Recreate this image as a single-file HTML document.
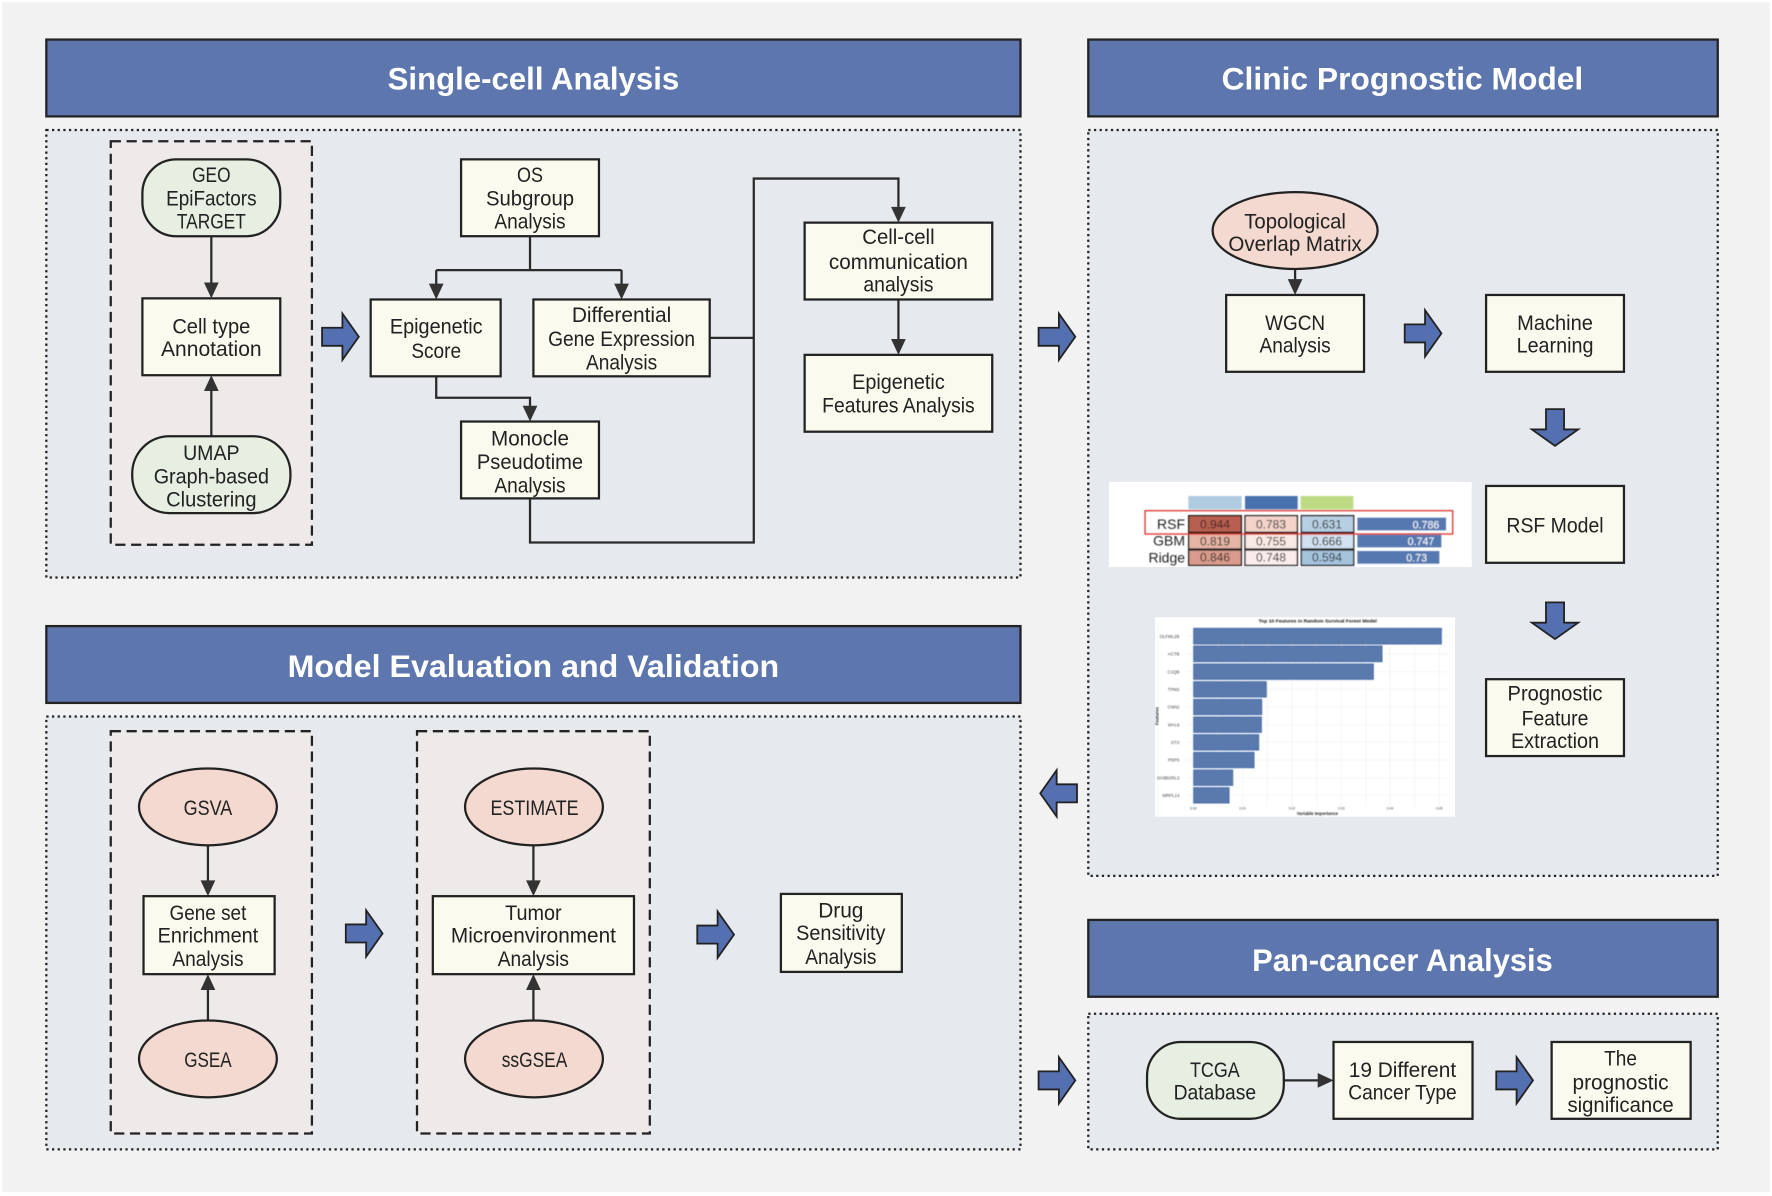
<!DOCTYPE html>
<html><head><meta charset="utf-8"><style>
html,body{margin:0;padding:0;background:#fff}
svg{display:block}
text{font-family:"Liberation Sans",sans-serif;fill:#222;font-size:18.5px;text-anchor:middle}
.h{font-size:28px;font-weight:bold;fill:#fff}
.n{fill:#fbfaee;stroke:#222;stroke-width:2}
.g{fill:#e7efe2;stroke:#222;stroke-width:2}
.e{fill:#f3d9d0;stroke:#222;stroke-width:2}
.hd{fill:#5d76ae;stroke:#222;stroke-width:2}
.p{fill:#e6eaee;stroke:#222;stroke-width:2;stroke-dasharray:2 3}
.d{fill:#efeaea;stroke:#222;stroke-width:2;stroke-dasharray:9 5}
.l{fill:none;stroke:#2a2a2a;stroke-width:2}
.a{fill:#333;stroke:none}
.b{fill:#5470b0;stroke:#222;stroke-width:1.6}
</style></head><body>
<svg xmlns="http://www.w3.org/2000/svg" width="1772" height="1196" viewBox="0 0 1568 1058.3">
<defs>
<path id="ar" class="b" d="M0,-8H18V-20.5L32.5,0L18,20.5V8H0Z"/>
<path id="ah" class="a" d="M-6.5,-14H6.5L0,0Z"/>
<filter id="bl" x="-5%" y="-5%" width="110%" height="110%"><feGaussianBlur stdDeviation="1.2"/></filter>
</defs>
<rect x="0" y="0" width="1568" height="1058.3" fill="#fff"/>
<rect x="2" y="2" width="1564" height="1053" fill="#f2f2f2"/>

<!-- headers -->
<rect class="hd" x="41" y="35" width="862" height="68"/>
<rect class="hd" x="963" y="35" width="557" height="68"/>
<rect class="hd" x="41" y="554" width="862" height="68"/>
<rect class="hd" x="963" y="814" width="557" height="68"/>
<text class="h" x="472" y="79" textLength="258" lengthAdjust="spacingAndGlyphs">Single-cell Analysis</text>
<text class="h" x="1241" y="79" textLength="320" lengthAdjust="spacingAndGlyphs">Clinic Prognostic Model</text>
<text class="h" x="472" y="599" textLength="435" lengthAdjust="spacingAndGlyphs">Model Evaluation and Validation</text>
<text class="h" x="1241" y="859" textLength="266" lengthAdjust="spacingAndGlyphs">Pan-cancer Analysis</text>

<!-- panels -->
<rect class="p" x="41" y="115" width="862" height="396"/>
<rect class="p" x="963" y="115" width="557" height="660"/>
<rect class="p" x="41" y="634" width="862" height="383"/>
<rect class="p" x="963" y="897" width="557" height="120"/>
<rect class="d" x="98" y="125" width="178" height="357"/>
<rect class="d" x="98" y="647" width="178" height="356"/>
<rect class="d" x="369" y="647" width="206" height="356"/>

<!-- connectors -->
<path class="l" d="M187,209V252M187,386V345M469,209V239M386,239H550M386,239V252M550,239V252M386,333V352H469V360M469,441V480H667V158H795V184M628,299H667M795,265V301M1146,238V248M184,748V780M184,903V875M472,748V780M472,903V875M1136,956H1168"/>
<use href="#ah" x="187" y="264"/>
<use href="#ah" transform="translate(187,332) rotate(180)"/>
<use href="#ah" x="386" y="265"/>
<use href="#ah" x="550" y="265"/>
<use href="#ah" x="469" y="373"/>
<use href="#ah" x="795" y="197"/>
<use href="#ah" x="795" y="314"/>
<use href="#ah" x="1146" y="261"/>
<use href="#ah" x="184" y="793"/>
<use href="#ah" transform="translate(184,862) rotate(180)"/>
<use href="#ah" x="472" y="793"/>
<use href="#ah" transform="translate(472,862) rotate(180)"/>
<use href="#ah" transform="translate(1180,956) rotate(-90)"/>

<!-- block arrows -->
<use href="#ar" x="285" y="298"/>
<use href="#ar" x="919" y="298"/>
<use href="#ar" x="1243" y="295"/>
<use href="#ar" x="306" y="826"/>
<use href="#ar" x="617" y="827"/>
<use href="#ar" x="919" y="956"/>
<use href="#ar" x="1324" y="956"/>
<use href="#ar" transform="translate(953,702) rotate(180)"/>
<use href="#ar" transform="translate(1376,362) rotate(90)"/>
<use href="#ar" transform="translate(1376,533) rotate(90)"/>

<!-- nodes -->
<rect class="g" x="126" y="141" width="122" height="68" rx="30"/>
<text x="187" y="161" textLength="34" lengthAdjust="spacingAndGlyphs">GEO</text><text x="187" y="182" textLength="80" lengthAdjust="spacingAndGlyphs">EpiFactors</text><text x="187" y="202" textLength="61" lengthAdjust="spacingAndGlyphs">TARGET</text>
<rect class="n" x="126" y="264" width="122" height="68"/>
<text x="187" y="295" textLength="69" lengthAdjust="spacingAndGlyphs">Cell type</text><text x="187" y="315" textLength="89" lengthAdjust="spacingAndGlyphs">Annotation</text>
<rect class="g" x="117" y="386" width="140" height="68" rx="33"/>
<text x="187" y="407" textLength="50" lengthAdjust="spacingAndGlyphs">UMAP</text><text x="187" y="428" textLength="102" lengthAdjust="spacingAndGlyphs">Graph-based</text><text x="187" y="448" textLength="80" lengthAdjust="spacingAndGlyphs">Clustering</text>
<rect class="n" x="408" y="141" width="122" height="68"/>
<text x="469" y="161" textLength="23" lengthAdjust="spacingAndGlyphs">OS</text><text x="469" y="182" textLength="78" lengthAdjust="spacingAndGlyphs">Subgroup</text><text x="469" y="202" textLength="63" lengthAdjust="spacingAndGlyphs">Analysis</text>
<rect class="n" x="328" y="265" width="115" height="68"/>
<text x="386" y="295" textLength="82" lengthAdjust="spacingAndGlyphs">Epigenetic</text><text x="386" y="317" textLength="44" lengthAdjust="spacingAndGlyphs">Score</text>
<rect class="n" x="472" y="265" width="156" height="68"/>
<text x="550" y="285" textLength="88" lengthAdjust="spacingAndGlyphs">Differential</text><text x="550" y="306" textLength="130" lengthAdjust="spacingAndGlyphs">Gene Expression</text><text x="550" y="327" textLength="63" lengthAdjust="spacingAndGlyphs">Analysis</text>
<rect class="n" x="408" y="373" width="122" height="68"/>
<text x="469" y="394" textLength="69" lengthAdjust="spacingAndGlyphs">Monocle</text><text x="469" y="415" textLength="94" lengthAdjust="spacingAndGlyphs">Pseudotime</text><text x="469" y="436" textLength="63" lengthAdjust="spacingAndGlyphs">Analysis</text>
<rect class="n" x="712" y="197" width="166" height="68"/>
<text x="795" y="216" textLength="64" lengthAdjust="spacingAndGlyphs">Cell-cell</text><text x="795" y="238" textLength="123" lengthAdjust="spacingAndGlyphs">communication</text><text x="795" y="258" textLength="62" lengthAdjust="spacingAndGlyphs">analysis</text>
<rect class="n" x="712" y="314" width="166" height="68"/>
<text x="795" y="344" textLength="82" lengthAdjust="spacingAndGlyphs">Epigenetic</text><text x="795" y="365" textLength="135" lengthAdjust="spacingAndGlyphs">Features Analysis</text>

<ellipse class="e" cx="1146" cy="204" rx="73" ry="34"/>
<text x="1146" y="202" textLength="90" lengthAdjust="spacingAndGlyphs">Topological</text><text x="1146" y="222" textLength="118" lengthAdjust="spacingAndGlyphs">Overlap Matrix</text>
<rect class="n" x="1085" y="261" width="122" height="68"/>
<text x="1146" y="292" textLength="53" lengthAdjust="spacingAndGlyphs">WGCN</text><text x="1146" y="312" textLength="63" lengthAdjust="spacingAndGlyphs">Analysis</text>
<rect class="n" x="1315" y="261" width="122" height="68"/>
<text x="1376" y="292" textLength="67" lengthAdjust="spacingAndGlyphs">Machine</text><text x="1376" y="312" textLength="68" lengthAdjust="spacingAndGlyphs">Learning</text>
<rect class="n" x="1315" y="430" width="122" height="68"/>
<text x="1376" y="471" textLength="86" lengthAdjust="spacingAndGlyphs">RSF Model</text>
<rect class="n" x="1315" y="601" width="122" height="68"/>
<text x="1376" y="620" textLength="84" lengthAdjust="spacingAndGlyphs">Prognostic</text><text x="1376" y="642" textLength="59" lengthAdjust="spacingAndGlyphs">Feature</text><text x="1376" y="662" textLength="78" lengthAdjust="spacingAndGlyphs">Extraction</text>

<ellipse class="e" cx="184" cy="714" rx="61" ry="34"/><text x="184" y="721" textLength="43" lengthAdjust="spacingAndGlyphs">GSVA</text>
<rect class="n" x="127" y="793" width="116" height="69"/>
<text x="184" y="814" textLength="68" lengthAdjust="spacingAndGlyphs">Gene set</text><text x="184" y="834" textLength="89" lengthAdjust="spacingAndGlyphs">Enrichment</text><text x="184" y="855" textLength="63" lengthAdjust="spacingAndGlyphs">Analysis</text>
<ellipse class="e" cx="184" cy="937" rx="61" ry="34"/><text x="184" y="944" textLength="42" lengthAdjust="spacingAndGlyphs">GSEA</text>
<ellipse class="e" cx="472.5" cy="714" rx="61" ry="34"/><text x="473" y="721" textLength="78" lengthAdjust="spacingAndGlyphs">ESTIMATE</text>
<rect class="n" x="383" y="793" width="178" height="69"/>
<text x="472" y="814" textLength="50" lengthAdjust="spacingAndGlyphs">Tumor</text><text x="472" y="834" textLength="146" lengthAdjust="spacingAndGlyphs">Microenvironment</text><text x="472" y="855" textLength="63" lengthAdjust="spacingAndGlyphs">Analysis</text>
<ellipse class="e" cx="472.5" cy="937" rx="61" ry="34"/><text x="473" y="944" textLength="58" lengthAdjust="spacingAndGlyphs">ssGSEA</text>
<rect class="n" x="691" y="791" width="107" height="69"/>
<text x="744" y="812" textLength="40" lengthAdjust="spacingAndGlyphs">Drug</text><text x="744" y="832" textLength="79" lengthAdjust="spacingAndGlyphs">Sensitivity</text><text x="744" y="853" textLength="63" lengthAdjust="spacingAndGlyphs">Analysis</text>

<rect class="g" x="1015" y="922" width="121" height="68" rx="30"/>
<text x="1075" y="953" textLength="44" lengthAdjust="spacingAndGlyphs">TCGA</text><text x="1075" y="973" textLength="73" lengthAdjust="spacingAndGlyphs">Database</text>
<rect class="n" x="1180" y="922" width="123" height="68"/>
<text x="1241" y="953" textLength="95" lengthAdjust="spacingAndGlyphs">19 Different</text><text x="1241" y="973" textLength="96" lengthAdjust="spacingAndGlyphs">Cancer Type</text>
<rect class="n" x="1373" y="922" width="123" height="68"/>
<text x="1434" y="943" textLength="29" lengthAdjust="spacingAndGlyphs">The</text><text x="1434" y="964" textLength="85" lengthAdjust="spacingAndGlyphs">prognostic</text><text x="1434" y="984" textLength="94" lengthAdjust="spacingAndGlyphs">significance</text>

<!-- RSF table -->
<g transform="scale(0.8849) translate(1090,470) scale(0.3333)">
<rect x="57" y="36" width="1088" height="255" fill="#fff"/>
<g filter="url(#bl)">
<rect x="295" y="78" width="160" height="40" fill="#aecbe0"/>
<rect x="465" y="78" width="158" height="40" fill="#4672ad"/>
<rect x="632" y="78" width="158" height="40" fill="#bcdb84"/>
<g stroke="#1a1a1a" stroke-width="4">
<rect x="296" y="137" width="158" height="50" fill="#b95f4f"/>
<rect x="465" y="137" width="157" height="50" fill="#f3d3ca"/>
<rect x="634" y="137" width="157" height="50" fill="#b7cfe3"/>
<rect x="296" y="190" width="158" height="47" fill="#e5b5a6"/>
<rect x="465" y="190" width="157" height="47" fill="#f9e9e4"/>
<rect x="634" y="190" width="157" height="47" fill="#d2e1ef"/>
<rect x="296" y="240" width="158" height="46" fill="#d99b8b"/>
<rect x="465" y="240" width="157" height="46" fill="#faecea"/>
<rect x="634" y="240" width="157" height="46" fill="#a4c3dd"/>
</g>
<rect x="802" y="143" width="266" height="38" fill="#5778b0"/>
<rect x="802" y="194" width="252" height="38" fill="#5778b0"/>
<rect x="802" y="243" width="246" height="38" fill="#5778b0"/>
<rect x="165" y="122" width="923" height="70" fill="none" stroke="#e0352f" stroke-width="4"/>
<text x="285" y="177" style="font-size:42px;text-anchor:end">RSF</text>
<text x="285" y="227" style="font-size:42px;text-anchor:end">GBM</text>
<text x="285" y="277" style="font-size:42px;text-anchor:end">Ridge</text>
<text x="375" y="175" style="font-size:36px">0.944</text><text x="543" y="175" style="font-size:36px">0.783</text><text x="711" y="175" style="font-size:36px">0.631</text>
<text x="375" y="226" style="font-size:36px">0.819</text><text x="543" y="226" style="font-size:36px">0.755</text><text x="711" y="226" style="font-size:36px">0.666</text>
<text x="375" y="275" style="font-size:36px">0.846</text><text x="543" y="275" style="font-size:36px">0.748</text><text x="711" y="275" style="font-size:36px">0.594</text>
<text x="1008" y="175" style="font-size:32px;fill:#fff">0.786</text>
<text x="993" y="225" style="font-size:32px;fill:#fff">0.747</text>
<text x="980" y="274" style="font-size:32px;fill:#fff">0.73</text>
</g>
</g>

<!-- Feature chart -->
<g transform="scale(0.8849) translate(1140,610) scale(0.3333)">
<rect x="45" y="22" width="900" height="598" fill="#fff"/>
<g filter="url(#bl)">
<g stroke="#eef0f2" stroke-width="2" fill="none">
<path d="M160,45V590M308,45V590M456,45V590M604,45V590M750,45V590M898,45V590M235,45V590M382,45V590M530,45V590M677,45V590M824,45V590"/>
<path d="M140,79H925M140,132H925M140,185H925M140,238H925M140,291H925M140,344H925M140,397H925M140,450H925M140,503H925M140,556H925"/>
</g>
<g fill="#5a79ad" stroke="#4a6ea8" stroke-width="3">
<rect x="161" y="55" width="743" height="47"/>
<rect x="161" y="108" width="565" height="47"/>
<rect x="161" y="162" width="539" height="46"/>
<rect x="161" y="215" width="218" height="46"/>
<rect x="161" y="268" width="204" height="46"/>
<rect x="161" y="321" width="203" height="46"/>
<rect x="161" y="374" width="195" height="46"/>
<rect x="161" y="427" width="181" height="46"/>
<rect x="161" y="480" width="117" height="46"/>
<rect x="161" y="533" width="106" height="46"/>
</g>
<text x="533" y="38" style="font-size:15px;font-weight:bold;fill:#111">Top 10 Features in Random Survival Forest Model</text>
<text x="118" y="84" style="font-size:13px;text-anchor:end;fill:#444">OLFML2B</text>
<text x="118" y="137" style="font-size:13px;text-anchor:end;fill:#444">ACTB</text>
<text x="118" y="190" style="font-size:13px;text-anchor:end;fill:#444">C1QB</text>
<text x="118" y="243" style="font-size:13px;text-anchor:end;fill:#444">TPM2</text>
<text x="118" y="296" style="font-size:13px;text-anchor:end;fill:#444">CNN2</text>
<text x="118" y="349" style="font-size:13px;text-anchor:end;fill:#444">MYL9</text>
<text x="118" y="402" style="font-size:13px;text-anchor:end;fill:#444">GT2</text>
<text x="118" y="455" style="font-size:13px;text-anchor:end;fill:#444">PDP5</text>
<text x="118" y="508" style="font-size:13px;text-anchor:end;fill:#444">SH3BGRL3</text>
<text x="118" y="561" style="font-size:13px;text-anchor:end;fill:#444">MRPL14</text>
<text x="160" y="599" style="font-size:10px;fill:#444">0.00</text>
<text x="308" y="599" style="font-size:10px;fill:#444">0.01</text>
<text x="456" y="599" style="font-size:10px;fill:#444">0.02</text>
<text x="604" y="599" style="font-size:10px;fill:#444">0.03</text>
<text x="750" y="599" style="font-size:10px;fill:#444">0.04</text>
<text x="898" y="599" style="font-size:10px;fill:#444">0.05</text>
<text x="532" y="615" style="font-size:13px;font-weight:bold;fill:#222">Variable Importance</text>
<text transform="translate(56,318) rotate(-90)" style="font-size:13px;font-weight:bold;fill:#222">Features</text>
</g>
</g>
</svg>
</body></html>
